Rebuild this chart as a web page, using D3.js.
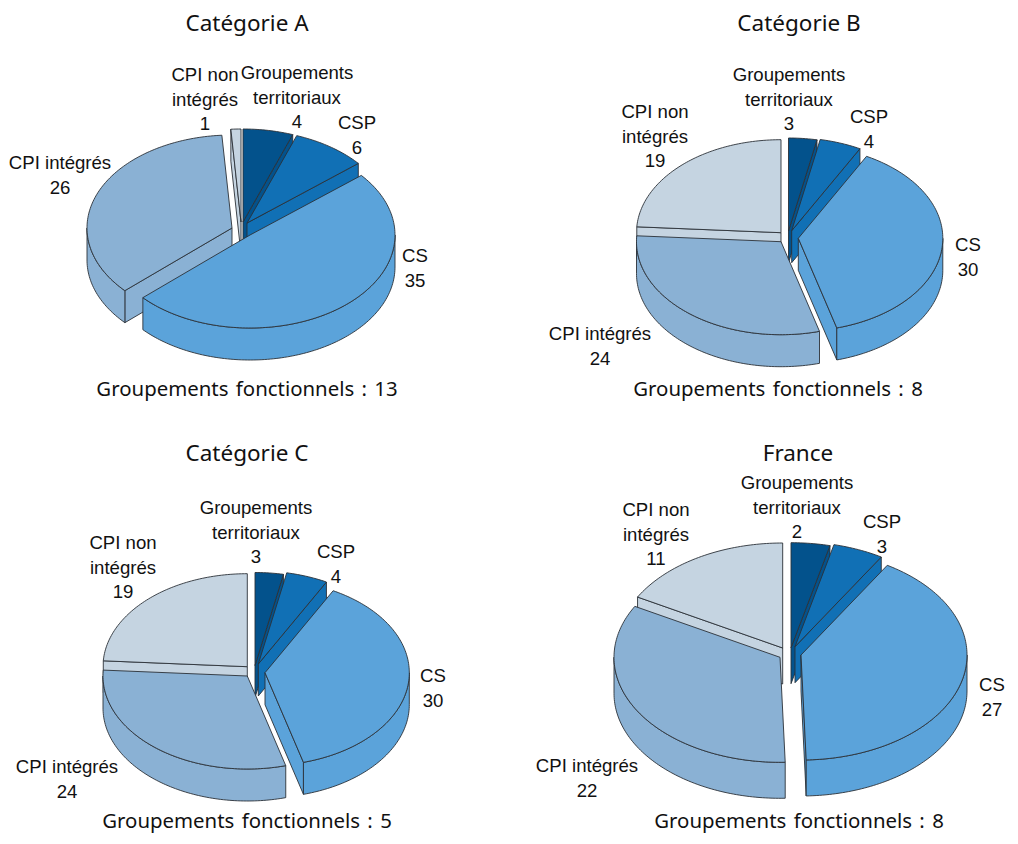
<!DOCTYPE html>
<html lang="fr">
<head>
<meta charset="utf-8">
<style>html,body{margin:0;padding:0;background:#fff}svg{display:block}</style>
<script src="https://cdn.jsdelivr.net/npm/d3@7/dist/d3.min.js"></script>
</head>
<body>
<svg id="chart" width="1018" height="844"></svg>
<script>
// ---- data (unrounded shares, labels show them rounded)
const categories = ["Groupements territoriaux", "CSP", "CS", "CPI intégrés", "CPI non intégrés"];
const categoryLines = [["Groupements", "territoriaux"], ["CSP"], ["CS"], ["CPI intégrés"], ["CPI non", "intégrés"]];
const panels = ["Catégorie A", "Catégorie B", "Catégorie C", "France"];
const valuesA = [4, 6, 35.4, 25.6, 0.8];
const valuesB = [2.5, 3.7, 30, 24, 19];
const valuesC = [2.5, 3.7, 30, 24, 19];
const valuesF = [2.45, 3.2, 26.5, 21.8, 11];
const fonctionnels = [13, 8, 5, 8];
const fonctionnelsLabel = "Groupements fonctionnels : ";

// ---- layout and style (kept apart from the data)
const colours = ["#03528c", "#1170b5", "#5ba3da", "#8ab1d4", "#c5d4e1"];
const layouts = [
  { values: valuesA, titleX: 247, titleY: 31, noteX: 247, noteY: 396, rx: 145, ry: 93, depth: 32,
    centres: [[243,222],[247,223],[250,235],[232,228],[241,222]],
    labels: [[297,73],[357,123],[415,256],[60,163],[205,75]] },
  { values: valuesB, titleX: 799, titleY: 31, noteX: 778, noteY: 396, rx: 144.5, ry: 93, depth: 32,
    centres: [[788.5,231],[791.7,230.7],[798.3,238.3],[781,241.7],[781,232.7]],
    labels: [[789,75],[869,117],[968,245],[600,334],[655,112]] },
  { values: valuesC, titleX: 247, titleY: 461, noteX: 247, noteY: 828, rx: 144.3, ry: 93, depth: 32,
    centres: [[255,665.5],[258.3,664],[265,672.7],[247.3,676],[247.3,666.7]],
    labels: [[256,508],[336,552],[433,676],[67,767],[123,543]] },
  { values: valuesF, titleX: 798, titleY: 461, noteX: 799, noteY: 828, rx: 166, ry: 105, depth: 36,
    centres: [[791,647.7],[795,646.7],[801,655],[780,657.3],[782.7,648]],
    labels: [[797,483],[882,522],[992,685],[587,766],[656,510]] }
];
const lineGap = 24.5;
const labelFont = "'Liberation Sans', Arial, sans-serif";
const noteFont = "'Noto Sans', 'Open Sans', sans-serif";

const svg = d3.select("#chart");
const pie = d3.pie().sort(null).startAngle(0).endAngle(2 * Math.PI);
const line = d3.line();

layouts.forEach((p, pi) => {
  const g = svg.append("g");
  // ellipse projection: angle is clockwise from the top
  const sx = d3.scaleLinear().domain([-1, 1]).range([-p.rx, p.rx]);
  const sy = d3.scaleLinear().domain([-1, 1]).range([-p.ry, p.ry]);
  const pt = (c, a, dz = 0) => [c[0] + sx(Math.sin(a)), c[1] + sy(-Math.cos(a)) + dz];
  const arcPts = (c, a0, a1, dz = 0) => {
    const n = Math.max(2, Math.ceil((a1 - a0) / 0.02));
    return d3.range(n + 1).map(i => pt(c, a0 + (a1 - a0) * i / n, dz));
  };

  const slices = pie(p.values).map((s, i) => {
    const c = p.centres[i];
    const mid = (s.startAngle + s.endAngle) / 2;
    return { s, i, c, order: pt(c, mid)[1] * 0.5 + c[1] * 0.5 + (s.endAngle - s.startAngle > 2.5 ? 10 : 0) };
  }).sort((a, b) => a.order - b.order);

  slices.forEach(({ s, i, c }) => {
    const a0 = s.startAngle, a1 = s.endAngle;
    const shape = d => g.append("path").attr("d", d)
      .attr("fill", colours[i]).attr("stroke", "#2b3138")
      .attr("stroke-width", 0.9).attr("stroke-linejoin", "round");
    const d = p.depth;
    const radialWall = a => shape(line([[c[0], c[1]], pt(c, a), pt(c, a, d), [c[0], c[1] + d]]) + "Z");
    if (Math.sin(a0) < -1e-6) radialWall(a0);
    if (Math.sin(a1) > 1e-6) radialWall(a1);
    const r0 = Math.max(a0, Math.PI / 2), r1 = Math.min(a1, 3 * Math.PI / 2);
    if (r1 > r0) {
      shape(line(arcPts(c, r0, r1).concat(arcPts(c, r0, r1, d).reverse())) + "Z");
    }
    shape(line([[c[0], c[1]]].concat(arcPts(c, a0, a1))) + "Z");
  });

  // slice labels
  categories.forEach((name, i) => {
    const rows = categoryLines[i].concat([String(Math.round(p.values[i]))]);
    const t = svg.append("text").attr("font-family", labelFont).attr("font-size", 18.6)
      .attr("fill", "#111").attr("text-anchor", "middle");
    rows.forEach((r, k) => {
      t.append("tspan").attr("x", p.labels[i][0]).attr("y", p.labels[i][1] + 6 + k * lineGap).text(r);
    });
  });

  svg.append("text").attr("x", p.titleX).attr("y", p.titleY).attr("text-anchor", "middle")
    .attr("font-family", noteFont).attr("font-size", 22.5).attr("fill", "#111").text(panels[pi]);
  svg.append("text").attr("x", p.noteX).attr("y", p.noteY).attr("text-anchor", "middle")
    .attr("font-family", noteFont).attr("font-size", 20.4).attr("word-spacing", 2).attr("fill", "#111")
    .text(fonctionnelsLabel + fonctionnels[pi]);
});
</script>
</body>
</html>
